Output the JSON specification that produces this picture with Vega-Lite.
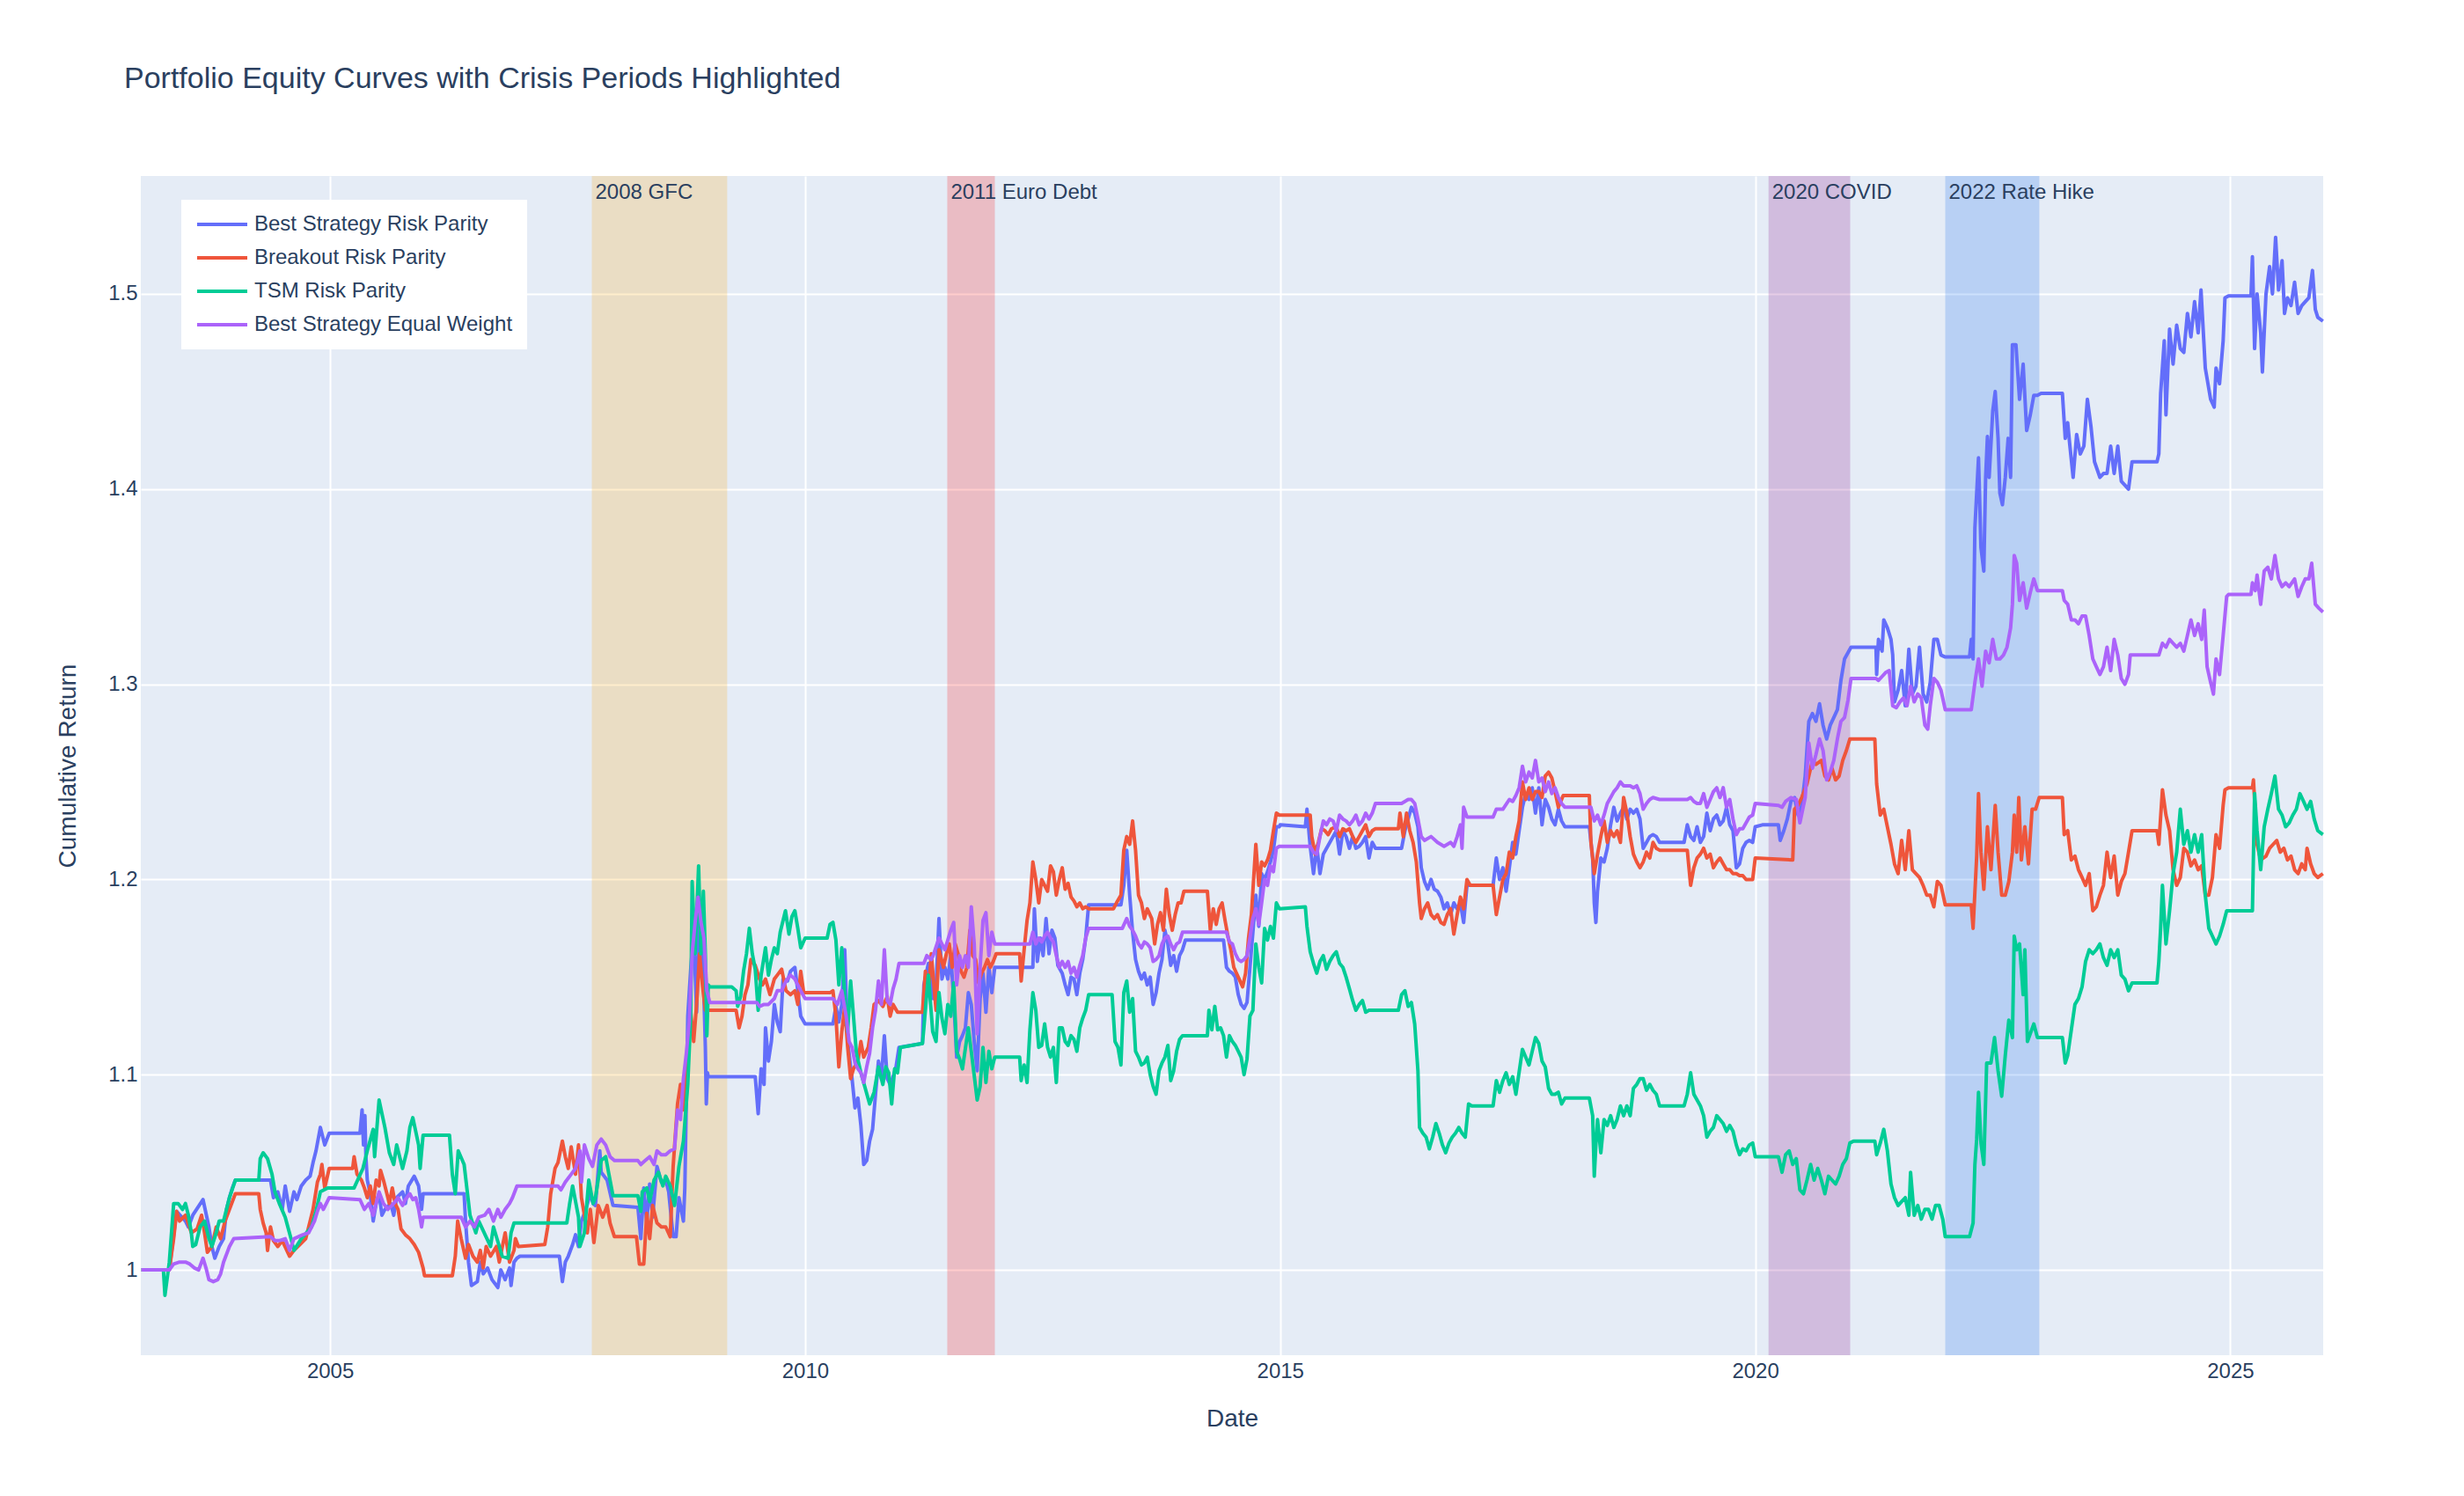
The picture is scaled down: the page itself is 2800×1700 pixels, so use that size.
{
"$schema": "https://vega.github.io/schema/vega-lite/v6.json",
"width": 2480,
"height": 1340,
"autosize": {"type": "none"},
"padding": {"left": 160, "top": 200, "right": 160, "bottom": 160},
"background": "#ffffff",
"config": {
  "view": {"fill": "#E5ECF6", "stroke": null},
  "font": "Liberation Sans",
  "axis": {"domain": false, "ticks": false, "tickSize": 0, "gridColor": "#ffffff", "gridWidth": 2, "gridOpacity": 1, "labelFont": "Liberation Sans", "labelFontSize": 24, "labelColor": "#2a3f5f", "titleFont": "Liberation Sans", "titleFontSize": 28, "titleColor": "#2a3f5f", "titleFontWeight": "normal"}
},
"title": {"text": "Portfolio Equity Curves with Crisis Periods Highlighted", "anchor": "start", "frame": "group", "font": "Liberation Sans", "fontSize": 34, "fontWeight": "normal", "color": "#2a3f5f", "baseline": "alphabetic", "offset": 66, "dx": -19},
"datasets": {
"crises": [
{"label": "2008 GFC", "start": 2007.755, "end": 2009.18},
{"label": "2011 Euro Debt", "start": 2011.496, "end": 2011.997},
{"label": "2020 COVID", "start": 2020.14, "end": 2021.0},
{"label": "2022 Rate Hike", "start": 2022.0, "end": 2022.99}
],
"brp": [
{"t":2003.015,"v":1.000},{"t":2003.308,"v":1.000},{"t":2003.385,"v":1.030},{"t":2003.478,"v":1.025},{"t":2003.509,"v":1.022},{"t":2003.555,"v":1.028},{"t":2003.663,"v":1.036},{"t":2003.725,"v":1.022},{"t":2003.756,"v":1.012},{"t":2003.787,"v":1.006},{"t":2003.833,"v":1.012},{"t":2003.879,"v":1.016},{"t":2003.910,"v":1.031},{"t":2003.941,"v":1.037},{"t":2003.972,"v":1.042},{"t":2004.003,"v":1.046},{"t":2004.373,"v":1.046},{"t":2004.404,"v":1.037},{"t":2004.450,"v":1.040},{"t":2004.497,"v":1.031},{"t":2004.528,"v":1.043},{"t":2004.574,"v":1.030},{"t":2004.620,"v":1.040},{"t":2004.651,"v":1.036},{"t":2004.697,"v":1.043},{"t":2004.744,"v":1.046},{"t":2004.790,"v":1.048},{"t":2004.821,"v":1.055},{"t":2004.852,"v":1.061},{"t":2004.898,"v":1.073},{"t":2004.944,"v":1.064},{"t":2004.991,"v":1.070},{"t":2005.315,"v":1.070},{"t":2005.337,"v":1.082},{"t":2005.352,"v":1.064},{"t":2005.367,"v":1.079},{"t":2005.377,"v":1.058},{"t":2005.392,"v":1.046},{"t":2005.423,"v":1.039},{"t":2005.454,"v":1.025},{"t":2005.485,"v":1.034},{"t":2005.516,"v":1.039},{"t":2005.546,"v":1.028},{"t":2005.577,"v":1.031},{"t":2005.639,"v":1.034},{"t":2005.670,"v":1.028},{"t":2005.701,"v":1.037},{"t":2005.763,"v":1.040},{"t":2005.793,"v":1.034},{"t":2005.824,"v":1.043},{"t":2005.886,"v":1.048},{"t":2005.932,"v":1.043},{"t":2005.963,"v":1.031},{"t":2005.979,"v":1.039},{"t":2006.411,"v":1.039},{"t":2006.426,"v":1.025},{"t":2006.457,"v":1.004},{"t":2006.488,"v":0.992},{"t":2006.550,"v":0.994},{"t":2006.581,"v":1.004},{"t":2006.612,"v":0.998},{"t":2006.658,"v":1.001},{"t":2006.704,"v":0.995},{"t":2006.766,"v":0.991},{"t":2006.797,"v":1.000},{"t":2006.843,"v":0.995},{"t":2006.889,"v":1.001},{"t":2006.905,"v":0.992},{"t":2006.936,"v":1.004},{"t":2006.967,"v":1.006},{"t":2006.998,"v":1.007},{"t":2007.414,"v":1.007},{"t":2007.445,"v":0.994},{"t":2007.476,"v":1.004},{"t":2007.507,"v":1.007},{"t":2007.553,"v":1.013},{"t":2007.584,"v":1.018},{"t":2007.615,"v":1.012},{"t":2007.646,"v":1.025},{"t":2007.692,"v":1.031},{"t":2007.739,"v":1.039},{"t":2007.769,"v":1.034},
{"t":2007.793,"v":1.033},{"t":2007.839,"v":1.061},{"t":2007.854,"v":1.050},{"t":2007.916,"v":1.046},{"t":2007.978,"v":1.033},{"t":2008.240,"v":1.032},{"t":2008.271,"v":1.016},{"t":2008.302,"v":1.042},{"t":2008.333,"v":1.024},{"t":2008.364,"v":1.044},{"t":2008.395,"v":1.027},{"t":2008.441,"v":1.053},{"t":2008.487,"v":1.045},{"t":2008.533,"v":1.046},{"t":2008.564,"v":1.040},{"t":2008.611,"v":1.017},{"t":2008.642,"v":1.017},{"t":2008.672,"v":1.037},{"t":2008.719,"v":1.025},{"t":2008.734,"v":1.042},{"t":2008.765,"v":1.130},{"t":2008.796,"v":1.154},{"t":2008.827,"v":1.173},{"t":2008.858,"v":1.132},{"t":2008.889,"v":1.188},{"t":2008.919,"v":1.169},{"t":2008.950,"v":1.114},{"t":2008.960,"v":1.085},{"t":2008.972,"v":1.101},{"t":2008.981,"v":1.099},{"t":2009.475,"v":1.099},{"t":2009.506,"v":1.080},{"t":2009.537,"v":1.103},{"t":2009.568,"v":1.095},{"t":2009.583,"v":1.124},{"t":2009.614,"v":1.107},{"t":2009.645,"v":1.117},{"t":2009.676,"v":1.136},{"t":2009.707,"v":1.127},{"t":2009.738,"v":1.122},{"t":2009.768,"v":1.149},{"t":2009.815,"v":1.148},{"t":2009.846,"v":1.153},{"t":2009.892,"v":1.155},{"t":2009.923,"v":1.143},{"t":2009.954,"v":1.130},{"t":2010.000,"v":1.126},{"t":2010.293,"v":1.126},{"t":2010.324,"v":1.135},{"t":2010.355,"v":1.127},{"t":2010.386,"v":1.136},{"t":2010.417,"v":1.164},{"t":2010.448,"v":1.117},{"t":2010.494,"v":1.098},{"t":2010.525,"v":1.083},{"t":2010.556,"v":1.088},{"t":2010.587,"v":1.074},{"t":2010.617,"v":1.054},{"t":2010.648,"v":1.056},{"t":2010.679,"v":1.066},{"t":2010.710,"v":1.072},{"t":2010.741,"v":1.090},{"t":2010.772,"v":1.107},{"t":2010.803,"v":1.098},{"t":2010.834,"v":1.120},{"t":2010.864,"v":1.098},{"t":2010.895,"v":1.095},{"t":2010.926,"v":1.099},{"t":2010.957,"v":1.104},{"t":2010.988,"v":1.114},{"t":2011.235,"v":1.116},{"t":2011.250,"v":1.146},{"t":2011.297,"v":1.157},
{"t":2011.348,"v":1.139},{"t":2011.378,"v":1.145},{"t":2011.409,"v":1.180},{"t":2011.440,"v":1.149},{"t":2011.471,"v":1.155},{"t":2011.502,"v":1.149},{"t":2011.533,"v":1.161},{"t":2011.564,"v":1.139},{"t":2011.595,"v":1.109},{"t":2011.626,"v":1.117},{"t":2011.656,"v":1.120},{"t":2011.687,"v":1.124},{"t":2011.718,"v":1.142},{"t":2011.749,"v":1.136},{"t":2011.780,"v":1.117},{"t":2011.811,"v":1.102},{"t":2011.842,"v":1.139},{"t":2011.872,"v":1.152},{"t":2011.903,"v":1.132},{"t":2011.934,"v":1.155},{"t":2011.965,"v":1.142},{"t":2011.996,"v":1.155},{"t":2012.397,"v":1.155},{"t":2012.413,"v":1.185},{"t":2012.444,"v":1.158},{"t":2012.475,"v":1.170},{"t":2012.505,"v":1.161},{"t":2012.536,"v":1.180},{"t":2012.567,"v":1.162},{"t":2012.598,"v":1.174},{"t":2012.629,"v":1.170},{"t":2012.660,"v":1.156},{"t":2012.706,"v":1.152},{"t":2012.737,"v":1.146},{"t":2012.768,"v":1.141},{"t":2012.799,"v":1.150},{"t":2012.830,"v":1.149},{"t":2012.860,"v":1.141},{"t":2012.891,"v":1.152},{"t":2012.922,"v":1.159},{"t":2012.953,"v":1.170},{"t":2012.984,"v":1.187},{"t":2013.324,"v":1.187},{"t":2013.354,"v":1.197},{"t":2013.385,"v":1.215},{"t":2013.416,"v":1.192},{"t":2013.447,"v":1.173},{"t":2013.478,"v":1.159},{"t":2013.509,"v":1.153},{"t":2013.540,"v":1.149},{"t":2013.571,"v":1.152},{"t":2013.601,"v":1.146},{"t":2013.632,"v":1.150},{"t":2013.663,"v":1.136},{"t":2013.694,"v":1.142},{"t":2013.725,"v":1.152},{"t":2013.756,"v":1.159},{"t":2013.787,"v":1.174},{"t":2013.818,"v":1.167},{"t":2013.848,"v":1.156},{"t":2013.879,"v":1.161},{"t":2013.910,"v":1.153},{"t":2013.941,"v":1.161},{"t":2013.972,"v":1.164},{"t":2014.003,"v":1.169},{"t":2014.404,"v":1.169},{"t":2014.435,"v":1.155},{"t":2014.466,"v":1.153},{"t":2014.497,"v":1.152},{"t":2014.528,"v":1.150},{"t":2014.559,"v":1.141},{"t":2014.589,"v":1.136},{"t":2014.620,"v":1.134},{"t":2014.651,"v":1.137},{"t":2014.682,"v":1.155},{"t":2014.713,"v":1.173},{"t":2014.744,"v":1.192},{"t":2014.775,"v":1.176},{"t":2014.805,"v":1.203},{"t":2014.836,"v":1.200},{"t":2014.867,"v":1.204},{"t":2014.898,"v":1.209},{"t":2014.929,"v":1.215},{"t":2014.960,"v":1.227},{"t":2014.991,"v":1.227},
{"t":2015.000,"v":1.228},{"t":2015.265,"v":1.227},{"t":2015.282,"v":1.236},{"t":2015.316,"v":1.217},{"t":2015.351,"v":1.203},{"t":2015.385,"v":1.217},{"t":2015.419,"v":1.203},{"t":2015.454,"v":1.213},{"t":2015.488,"v":1.216},{"t":2015.557,"v":1.222},{"t":2015.591,"v":1.225},{"t":2015.625,"v":1.213},{"t":2015.660,"v":1.225},{"t":2015.694,"v":1.222},{"t":2015.729,"v":1.216},{"t":2015.763,"v":1.222},{"t":2015.797,"v":1.216},{"t":2015.832,"v":1.217},{"t":2015.866,"v":1.219},{"t":2015.900,"v":1.222},{"t":2015.935,"v":1.211},{"t":2015.969,"v":1.219},{"t":2016.003,"v":1.216},{"t":2016.278,"v":1.216},{"t":2016.313,"v":1.225},{"t":2016.347,"v":1.231},{"t":2016.381,"v":1.237},{"t":2016.416,"v":1.234},{"t":2016.450,"v":1.227},{"t":2016.485,"v":1.206},{"t":2016.519,"v":1.199},{"t":2016.553,"v":1.195},{"t":2016.588,"v":1.200},{"t":2016.622,"v":1.195},{"t":2016.656,"v":1.194},{"t":2016.691,"v":1.191},{"t":2016.725,"v":1.185},{"t":2016.759,"v":1.188},{"t":2016.794,"v":1.182},{"t":2016.828,"v":1.188},{"t":2016.863,"v":1.185},{"t":2016.897,"v":1.188},{"t":2016.931,"v":1.178},{"t":2016.966,"v":1.197},{"t":2017.241,"v":1.197},{"t":2017.275,"v":1.211},{"t":2017.309,"v":1.200},{"t":2017.344,"v":1.206},{"t":2017.378,"v":1.194},{"t":2017.412,"v":1.206},{"t":2017.447,"v":1.219},{"t":2017.481,"v":1.213},{"t":2017.515,"v":1.225},{"t":2017.550,"v":1.237},{"t":2017.584,"v":1.244},{"t":2017.619,"v":1.241},{"t":2017.653,"v":1.247},{"t":2017.687,"v":1.234},{"t":2017.722,"v":1.247},{"t":2017.756,"v":1.228},{"t":2017.790,"v":1.241},{"t":2017.825,"v":1.237},{"t":2017.859,"v":1.231},{"t":2017.893,"v":1.228},{"t":2017.928,"v":1.236},{"t":2017.962,"v":1.230},{"t":2017.997,"v":1.227},{"t":2018.254,"v":1.227},{"t":2018.289,"v":1.211},{"t":2018.306,"v":1.188},{"t":2018.323,"v":1.178},{"t":2018.340,"v":1.194},{"t":2018.375,"v":1.211},{"t":2018.409,"v":1.209},{"t":2018.443,"v":1.216},{"t":2018.478,"v":1.228},{"t":2018.512,"v":1.237},{"t":2018.546,"v":1.230},{"t":2018.581,"v":1.234},{"t":2018.615,"v":1.237},{"t":2018.649,"v":1.231},{"t":2018.684,"v":1.236},{"t":2018.718,"v":1.234},{"t":2018.753,"v":1.236},{"t":2018.787,"v":1.231},{"t":2018.821,"v":1.216},{"t":2018.856,"v":1.219},{"t":2018.890,"v":1.222},{"t":2018.924,"v":1.223},{"t":2018.959,"v":1.222},{"t":2018.993,"v":1.219},{"t":2019.251,"v":1.219},{"t":2019.285,"v":1.228},{"t":2019.320,"v":1.222},{"t":2019.354,"v":1.220},{"t":2019.388,"v":1.227},{"t":2019.423,"v":1.219},{"t":2019.457,"v":1.222},{"t":2019.491,"v":1.234},{"t":2019.526,"v":1.225},{"t":2019.560,"v":1.231},{"t":2019.595,"v":1.233},{"t":2019.629,"v":1.228},{"t":2019.663,"v":1.230},{"t":2019.698,"v":1.237},{"t":2019.732,"v":1.228},{"t":2019.766,"v":1.225},{"t":2019.801,"v":1.206},{"t":2019.835,"v":1.208},{"t":2019.869,"v":1.216},{"t":2019.904,"v":1.219},{"t":2019.938,"v":1.220},{"t":2019.973,"v":1.219},{"t":2020.000,"v":1.227},
{"t":2020.075,"v":1.228},{"t":2020.244,"v":1.228},{"t":2020.263,"v":1.220},{"t":2020.301,"v":1.225},{"t":2020.338,"v":1.231},{"t":2020.376,"v":1.240},{"t":2020.414,"v":1.242},{"t":2020.451,"v":1.233},{"t":2020.489,"v":1.238},{"t":2020.526,"v":1.253},{"t":2020.564,"v":1.281},{"t":2020.602,"v":1.285},{"t":2020.639,"v":1.281},{"t":2020.677,"v":1.290},{"t":2020.714,"v":1.279},{"t":2020.752,"v":1.272},{"t":2020.789,"v":1.279},{"t":2020.827,"v":1.283},{"t":2020.865,"v":1.287},{"t":2020.902,"v":1.302},{"t":2020.940,"v":1.313},{"t":2021.008,"v":1.319},{"t":2021.271,"v":1.319},{"t":2021.278,"v":1.305},{"t":2021.297,"v":1.323},{"t":2021.335,"v":1.317},{"t":2021.353,"v":1.333},{"t":2021.391,"v":1.329},{"t":2021.429,"v":1.323},{"t":2021.447,"v":1.315},{"t":2021.466,"v":1.291},{"t":2021.504,"v":1.297},{"t":2021.541,"v":1.307},{"t":2021.579,"v":1.289},{"t":2021.617,"v":1.318},{"t":2021.654,"v":1.295},{"t":2021.692,"v":1.299},{"t":2021.729,"v":1.319},{"t":2021.767,"v":1.295},{"t":2021.805,"v":1.291},{"t":2021.842,"v":1.301},{"t":2021.880,"v":1.323},{"t":2021.917,"v":1.323},{"t":2021.955,"v":1.315},{"t":2022.000,"v":1.314},{"t":2022.256,"v":1.314},{"t":2022.274,"v":1.323},{"t":2022.293,"v":1.313},{"t":2022.312,"v":1.380},{"t":2022.350,"v":1.416},{"t":2022.376,"v":1.370},{"t":2022.406,"v":1.358},{"t":2022.425,"v":1.406},{"t":2022.444,"v":1.427},{"t":2022.462,"v":1.406},{"t":2022.500,"v":1.440},{"t":2022.526,"v":1.450},{"t":2022.556,"v":1.426},{"t":2022.575,"v":1.398},{"t":2022.602,"v":1.392},{"t":2022.632,"v":1.406},{"t":2022.662,"v":1.426},{"t":2022.688,"v":1.406},{"t":2022.707,"v":1.474},{"t":2022.744,"v":1.474},{"t":2022.782,"v":1.446},{"t":2022.820,"v":1.464},{"t":2022.857,"v":1.430},{"t":2022.895,"v":1.438},{"t":2022.932,"v":1.448},{"t":2022.970,"v":1.448},{"t":2023.008,"v":1.449},{"t":2023.233,"v":1.449},{"t":2023.263,"v":1.426},{"t":2023.289,"v":1.434},{"t":2023.308,"v":1.424},{"t":2023.346,"v":1.406},{"t":2023.383,"v":1.428},{"t":2023.421,"v":1.418},{"t":2023.459,"v":1.422},{"t":2023.496,"v":1.446},{"t":2023.534,"v":1.432},{"t":2023.571,"v":1.414},{"t":2023.628,"v":1.406},{"t":2023.665,"v":1.408},{"t":2023.703,"v":1.408},{"t":2023.741,"v":1.422},{"t":2023.778,"v":1.408},{"t":2023.816,"v":1.422},{"t":2023.853,"v":1.404},{"t":2023.891,"v":1.402},{"t":2023.929,"v":1.400},{"t":2023.966,"v":1.414},{"t":2024.229,"v":1.414},{"t":2024.248,"v":1.418},{"t":2024.267,"v":1.449},{"t":2024.305,"v":1.476},{"t":2024.323,"v":1.438},{"t":2024.361,"v":1.482},{"t":2024.398,"v":1.464},{"t":2024.436,"v":1.484},{"t":2024.474,"v":1.472},{"t":2024.511,"v":1.470},{"t":2024.549,"v":1.490},{"t":2024.586,"v":1.478},{"t":2024.624,"v":1.496},{"t":2024.662,"v":1.480},{"t":2024.692,"v":1.502},{"t":2024.737,"v":1.462},{"t":2024.793,"v":1.446},{"t":2024.831,"v":1.442},{"t":2024.850,"v":1.462},{"t":2024.887,"v":1.454},{"t":2024.925,"v":1.476},{"t":2024.944,"v":1.498},{"t":2024.981,"v":1.499},{"t":2025.218,"v":1.499},{"t":2025.233,"v":1.519},{"t":2025.256,"v":1.472},{"t":2025.282,"v":1.500},{"t":2025.320,"v":1.480},{"t":2025.338,"v":1.460},{"t":2025.376,"v":1.500},{"t":2025.414,"v":1.514},{"t":2025.444,"v":1.500},{"t":2025.477,"v":1.529},{"t":2025.508,"v":1.502},{"t":2025.545,"v":1.517},{"t":2025.571,"v":1.490},{"t":2025.602,"v":1.498},{"t":2025.639,"v":1.494},{"t":2025.677,"v":1.506},{"t":2025.714,"v":1.490},{"t":2025.752,"v":1.494},{"t":2025.789,"v":1.496},{"t":2025.827,"v":1.498},{"t":2025.865,"v":1.512},{"t":2025.895,"v":1.492},{"t":2025.921,"v":1.488},{"t":2025.975,"v":1.486}
],
"bkrp": [
{"t":2003.015,"v":1.000},{"t":2003.308,"v":1.000},{"t":2003.354,"v":1.016},{"t":2003.385,"v":1.030},{"t":2003.416,"v":1.025},{"t":2003.478,"v":1.028},{"t":2003.540,"v":1.019},{"t":2003.601,"v":1.021},{"t":2003.648,"v":1.028},{"t":2003.679,"v":1.019},{"t":2003.709,"v":1.009},{"t":2003.756,"v":1.012},{"t":2003.802,"v":1.022},{"t":2003.848,"v":1.016},{"t":2003.895,"v":1.025},{"t":2003.941,"v":1.031},{"t":2004.003,"v":1.039},{"t":2004.250,"v":1.039},{"t":2004.265,"v":1.031},{"t":2004.296,"v":1.024},{"t":2004.327,"v":1.019},{"t":2004.342,"v":1.010},{"t":2004.373,"v":1.022},{"t":2004.404,"v":1.015},{"t":2004.450,"v":1.012},{"t":2004.497,"v":1.015},{"t":2004.574,"v":1.007},{"t":2004.620,"v":1.010},{"t":2004.682,"v":1.013},{"t":2004.744,"v":1.016},{"t":2004.790,"v":1.025},{"t":2004.821,"v":1.031},{"t":2004.867,"v":1.045},{"t":2004.898,"v":1.049},{"t":2004.914,"v":1.054},{"t":2004.944,"v":1.042},{"t":2004.991,"v":1.052},{"t":2005.238,"v":1.052},{"t":2005.253,"v":1.058},{"t":2005.284,"v":1.049},{"t":2005.330,"v":1.046},{"t":2005.361,"v":1.042},{"t":2005.392,"v":1.037},{"t":2005.423,"v":1.043},{"t":2005.454,"v":1.034},{"t":2005.485,"v":1.046},{"t":2005.516,"v":1.043},{"t":2005.531,"v":1.051},{"t":2005.562,"v":1.046},{"t":2005.593,"v":1.040},{"t":2005.624,"v":1.034},{"t":2005.655,"v":1.042},{"t":2005.685,"v":1.034},{"t":2005.716,"v":1.031},{"t":2005.747,"v":1.021},{"t":2005.793,"v":1.018},{"t":2005.840,"v":1.016},{"t":2005.886,"v":1.013},{"t":2005.932,"v":1.009},{"t":2005.979,"v":1.001},{"t":2005.994,"v":0.997},{"t":2006.287,"v":0.997},{"t":2006.318,"v":1.007},{"t":2006.343,"v":1.025},{"t":2006.380,"v":1.016},{"t":2006.426,"v":1.006},{"t":2006.457,"v":1.013},{"t":2006.504,"v":1.007},{"t":2006.550,"v":1.004},{"t":2006.581,"v":1.010},{"t":2006.612,"v":1.001},{"t":2006.643,"v":1.012},{"t":2006.689,"v":1.007},{"t":2006.751,"v":1.012},{"t":2006.781,"v":1.004},{"t":2006.843,"v":1.019},{"t":2006.889,"v":1.004},{"t":2006.936,"v":1.010},{"t":2006.951,"v":1.016},{"t":2006.982,"v":1.012},{"t":2007.260,"v":1.013},{"t":2007.291,"v":1.022},{"t":2007.322,"v":1.039},{"t":2007.368,"v":1.052},{"t":2007.399,"v":1.055},{"t":2007.445,"v":1.066},{"t":2007.476,"v":1.058},{"t":2007.507,"v":1.052},{"t":2007.538,"v":1.063},{"t":2007.584,"v":1.049},{"t":2007.615,"v":1.064},{"t":2007.646,"v":1.037},{"t":2007.708,"v":1.019},{"t":2007.739,"v":1.031},
{"t":2007.777,"v":1.014},{"t":2007.823,"v":1.033},{"t":2007.870,"v":1.027},{"t":2007.916,"v":1.033},{"t":2007.947,"v":1.024},{"t":2007.993,"v":1.017},{"t":2008.225,"v":1.017},{"t":2008.256,"v":1.003},{"t":2008.302,"v":1.003},{"t":2008.333,"v":1.029},{"t":2008.364,"v":1.016},{"t":2008.395,"v":1.033},{"t":2008.441,"v":1.024},{"t":2008.487,"v":1.022},{"t":2008.533,"v":1.022},{"t":2008.580,"v":1.017},{"t":2008.611,"v":1.053},{"t":2008.657,"v":1.085},{"t":2008.688,"v":1.095},{"t":2008.719,"v":1.082},{"t":2008.765,"v":1.114},{"t":2008.796,"v":1.132},{"t":2008.827,"v":1.117},{"t":2008.858,"v":1.136},{"t":2008.889,"v":1.162},{"t":2008.919,"v":1.146},{"t":2008.950,"v":1.133},{"t":2008.981,"v":1.133},{"t":2009.274,"v":1.133},{"t":2009.305,"v":1.124},{"t":2009.336,"v":1.130},{"t":2009.367,"v":1.141},{"t":2009.398,"v":1.146},{"t":2009.429,"v":1.159},{"t":2009.475,"v":1.156},{"t":2009.521,"v":1.149},{"t":2009.552,"v":1.146},{"t":2009.583,"v":1.149},{"t":2009.630,"v":1.141},{"t":2009.676,"v":1.149},{"t":2009.707,"v":1.151},{"t":2009.753,"v":1.154},{"t":2009.799,"v":1.143},{"t":2009.846,"v":1.141},{"t":2009.892,"v":1.143},{"t":2009.923,"v":1.136},{"t":2009.954,"v":1.153},{"t":2009.985,"v":1.142},{"t":2010.262,"v":1.142},{"t":2010.293,"v":1.143},{"t":2010.324,"v":1.130},{"t":2010.355,"v":1.104},{"t":2010.386,"v":1.122},{"t":2010.417,"v":1.135},{"t":2010.448,"v":1.114},{"t":2010.479,"v":1.098},{"t":2010.509,"v":1.103},{"t":2010.556,"v":1.107},{"t":2010.587,"v":1.117},{"t":2010.617,"v":1.109},{"t":2010.664,"v":1.114},{"t":2010.695,"v":1.124},{"t":2010.726,"v":1.136},{"t":2010.772,"v":1.138},{"t":2010.818,"v":1.135},{"t":2010.864,"v":1.140},{"t":2010.895,"v":1.130},{"t":2010.926,"v":1.136},{"t":2010.973,"v":1.132},{"t":2011.235,"v":1.132},{"t":2011.266,"v":1.153},{"t":2011.297,"v":1.141},{"t":2011.328,"v":1.162},
{"t":2011.378,"v":1.133},{"t":2011.409,"v":1.164},{"t":2011.456,"v":1.155},{"t":2011.487,"v":1.162},{"t":2011.517,"v":1.167},{"t":2011.548,"v":1.155},{"t":2011.579,"v":1.167},{"t":2011.610,"v":1.162},{"t":2011.641,"v":1.153},{"t":2011.672,"v":1.150},{"t":2011.703,"v":1.155},{"t":2011.734,"v":1.174},{"t":2011.764,"v":1.161},{"t":2011.795,"v":1.159},{"t":2011.826,"v":1.147},{"t":2011.857,"v":1.152},{"t":2011.888,"v":1.155},{"t":2011.919,"v":1.159},{"t":2011.950,"v":1.155},{"t":2011.980,"v":1.158},{"t":2012.011,"v":1.162},{"t":2012.258,"v":1.162},{"t":2012.274,"v":1.148},{"t":2012.305,"v":1.164},{"t":2012.336,"v":1.179},{"t":2012.366,"v":1.188},{"t":2012.397,"v":1.209},{"t":2012.428,"v":1.200},{"t":2012.459,"v":1.188},{"t":2012.490,"v":1.200},{"t":2012.521,"v":1.197},{"t":2012.552,"v":1.194},{"t":2012.583,"v":1.207},{"t":2012.613,"v":1.204},{"t":2012.644,"v":1.192},{"t":2012.675,"v":1.200},{"t":2012.706,"v":1.206},{"t":2012.737,"v":1.195},{"t":2012.768,"v":1.198},{"t":2012.799,"v":1.191},{"t":2012.830,"v":1.189},{"t":2012.860,"v":1.186},{"t":2012.891,"v":1.188},{"t":2012.922,"v":1.185},{"t":2012.953,"v":1.186},{"t":2012.984,"v":1.185},{"t":2013.246,"v":1.185},{"t":2013.277,"v":1.188},{"t":2013.324,"v":1.192},{"t":2013.354,"v":1.215},{"t":2013.385,"v":1.222},{"t":2013.416,"v":1.218},{"t":2013.447,"v":1.230},{"t":2013.478,"v":1.215},{"t":2013.509,"v":1.192},{"t":2013.540,"v":1.188},{"t":2013.571,"v":1.180},{"t":2013.601,"v":1.185},{"t":2013.648,"v":1.180},{"t":2013.679,"v":1.167},{"t":2013.709,"v":1.177},{"t":2013.740,"v":1.183},{"t":2013.771,"v":1.174},{"t":2013.802,"v":1.195},{"t":2013.833,"v":1.182},{"t":2013.864,"v":1.174},{"t":2013.895,"v":1.182},{"t":2013.926,"v":1.188},{"t":2013.957,"v":1.188},{"t":2013.987,"v":1.194},{"t":2014.234,"v":1.194},{"t":2014.265,"v":1.174},{"t":2014.296,"v":1.185},{"t":2014.327,"v":1.177},{"t":2014.358,"v":1.185},{"t":2014.389,"v":1.188},{"t":2014.420,"v":1.179},{"t":2014.450,"v":1.171},{"t":2014.481,"v":1.164},{"t":2014.512,"v":1.155},{"t":2014.559,"v":1.150},{"t":2014.605,"v":1.145},{"t":2014.636,"v":1.152},{"t":2014.667,"v":1.170},{"t":2014.697,"v":1.182},{"t":2014.728,"v":1.206},{"t":2014.744,"v":1.218},{"t":2014.775,"v":1.197},{"t":2014.805,"v":1.209},{"t":2014.836,"v":1.207},{"t":2014.867,"v":1.210},{"t":2014.898,"v":1.215},{"t":2014.929,"v":1.225},{"t":2014.960,"v":1.234},{"t":2014.991,"v":1.233},
{"t":2015.316,"v":1.233},{"t":2015.333,"v":1.222},{"t":2015.368,"v":1.213},{"t":2015.402,"v":1.219},{"t":2015.436,"v":1.226},{"t":2015.471,"v":1.225},{"t":2015.505,"v":1.223},{"t":2015.540,"v":1.226},{"t":2015.591,"v":1.227},{"t":2015.625,"v":1.222},{"t":2015.660,"v":1.226},{"t":2015.694,"v":1.225},{"t":2015.729,"v":1.226},{"t":2015.763,"v":1.222},{"t":2015.797,"v":1.219},{"t":2015.832,"v":1.222},{"t":2015.866,"v":1.225},{"t":2015.900,"v":1.228},{"t":2015.935,"v":1.222},{"t":2015.969,"v":1.225},{"t":2016.003,"v":1.226},{"t":2016.244,"v":1.226},{"t":2016.261,"v":1.234},{"t":2016.296,"v":1.222},{"t":2016.330,"v":1.234},{"t":2016.364,"v":1.225},{"t":2016.399,"v":1.219},{"t":2016.433,"v":1.209},{"t":2016.467,"v":1.188},{"t":2016.485,"v":1.180},{"t":2016.519,"v":1.185},{"t":2016.553,"v":1.188},{"t":2016.588,"v":1.182},{"t":2016.622,"v":1.180},{"t":2016.656,"v":1.182},{"t":2016.691,"v":1.178},{"t":2016.725,"v":1.177},{"t":2016.759,"v":1.182},{"t":2016.794,"v":1.185},{"t":2016.828,"v":1.172},{"t":2016.863,"v":1.182},{"t":2016.897,"v":1.191},{"t":2016.931,"v":1.185},{"t":2016.966,"v":1.200},{"t":2017.000,"v":1.197},{"t":2017.241,"v":1.197},{"t":2017.275,"v":1.182},{"t":2017.309,"v":1.191},{"t":2017.344,"v":1.200},{"t":2017.378,"v":1.203},{"t":2017.412,"v":1.214},{"t":2017.447,"v":1.211},{"t":2017.481,"v":1.222},{"t":2017.515,"v":1.230},{"t":2017.550,"v":1.250},{"t":2017.584,"v":1.241},{"t":2017.619,"v":1.247},{"t":2017.653,"v":1.241},{"t":2017.687,"v":1.245},{"t":2017.722,"v":1.245},{"t":2017.756,"v":1.242},{"t":2017.790,"v":1.253},{"t":2017.825,"v":1.255},{"t":2017.859,"v":1.252},{"t":2017.893,"v":1.245},{"t":2017.928,"v":1.237},{"t":2017.962,"v":1.241},{"t":2017.979,"v":1.243},{"t":2018.254,"v":1.243},{"t":2018.271,"v":1.219},{"t":2018.306,"v":1.203},{"t":2018.340,"v":1.213},{"t":2018.375,"v":1.222},{"t":2018.409,"v":1.230},{"t":2018.443,"v":1.219},{"t":2018.478,"v":1.225},{"t":2018.512,"v":1.222},{"t":2018.546,"v":1.225},{"t":2018.581,"v":1.219},{"t":2018.615,"v":1.242},{"t":2018.649,"v":1.234},{"t":2018.684,"v":1.222},{"t":2018.718,"v":1.213},{"t":2018.753,"v":1.209},{"t":2018.787,"v":1.206},{"t":2018.821,"v":1.209},{"t":2018.856,"v":1.214},{"t":2018.890,"v":1.211},{"t":2018.924,"v":1.219},{"t":2018.959,"v":1.216},{"t":2018.993,"v":1.215},{"t":2019.285,"v":1.215},{"t":2019.320,"v":1.197},{"t":2019.354,"v":1.206},{"t":2019.388,"v":1.211},{"t":2019.423,"v":1.213},{"t":2019.457,"v":1.216},{"t":2019.491,"v":1.211},{"t":2019.526,"v":1.213},{"t":2019.560,"v":1.206},{"t":2019.595,"v":1.209},{"t":2019.629,"v":1.211},{"t":2019.663,"v":1.208},{"t":2019.698,"v":1.205},{"t":2019.732,"v":1.205},{"t":2019.766,"v":1.203},{"t":2019.801,"v":1.203},{"t":2019.835,"v":1.202},{"t":2019.869,"v":1.202},{"t":2019.904,"v":1.200},{"t":2019.938,"v":1.200},{"t":2019.973,"v":1.200},{"t":2020.000,"v":1.211},
{"t":2020.395,"v":1.210},{"t":2020.414,"v":1.236},{"t":2020.451,"v":1.238},{"t":2020.489,"v":1.242},{"t":2020.545,"v":1.249},{"t":2020.602,"v":1.261},{"t":2020.639,"v":1.259},{"t":2020.696,"v":1.261},{"t":2020.733,"v":1.253},{"t":2020.771,"v":1.251},{"t":2020.808,"v":1.257},{"t":2020.846,"v":1.251},{"t":2020.883,"v":1.253},{"t":2020.921,"v":1.261},{"t":2020.959,"v":1.266},{"t":2020.996,"v":1.272},{"t":2021.259,"v":1.272},{"t":2021.278,"v":1.249},{"t":2021.316,"v":1.233},{"t":2021.353,"v":1.236},{"t":2021.391,"v":1.227},{"t":2021.429,"v":1.218},{"t":2021.466,"v":1.208},{"t":2021.504,"v":1.203},{"t":2021.541,"v":1.220},{"t":2021.579,"v":1.205},{"t":2021.617,"v":1.225},{"t":2021.654,"v":1.205},{"t":2021.692,"v":1.203},{"t":2021.729,"v":1.201},{"t":2021.767,"v":1.197},{"t":2021.805,"v":1.192},{"t":2021.842,"v":1.192},{"t":2021.880,"v":1.186},{"t":2021.917,"v":1.199},{"t":2021.955,"v":1.197},{"t":2022.000,"v":1.187},{"t":2022.274,"v":1.187},{"t":2022.293,"v":1.175},{"t":2022.331,"v":1.212},{"t":2022.350,"v":1.244},{"t":2022.376,"v":1.214},{"t":2022.406,"v":1.195},{"t":2022.444,"v":1.227},{"t":2022.481,"v":1.205},{"t":2022.526,"v":1.238},{"t":2022.556,"v":1.214},{"t":2022.594,"v":1.192},{"t":2022.632,"v":1.192},{"t":2022.669,"v":1.199},{"t":2022.707,"v":1.214},{"t":2022.726,"v":1.233},{"t":2022.752,"v":1.214},{"t":2022.774,"v":1.242},{"t":2022.801,"v":1.210},{"t":2022.838,"v":1.227},{"t":2022.876,"v":1.208},{"t":2022.914,"v":1.236},{"t":2022.951,"v":1.236},{"t":2022.989,"v":1.242},{"t":2023.233,"v":1.242},{"t":2023.252,"v":1.223},{"t":2023.289,"v":1.225},{"t":2023.327,"v":1.210},{"t":2023.365,"v":1.212},{"t":2023.402,"v":1.205},{"t":2023.440,"v":1.201},{"t":2023.477,"v":1.197},{"t":2023.515,"v":1.203},{"t":2023.553,"v":1.184},{"t":2023.590,"v":1.186},{"t":2023.628,"v":1.192},{"t":2023.665,"v":1.197},{"t":2023.703,"v":1.214},{"t":2023.741,"v":1.201},{"t":2023.778,"v":1.212},{"t":2023.816,"v":1.192},{"t":2023.853,"v":1.199},{"t":2023.891,"v":1.203},{"t":2023.929,"v":1.214},{"t":2023.966,"v":1.225},{"t":2024.229,"v":1.225},{"t":2024.248,"v":1.218},{"t":2024.286,"v":1.246},{"t":2024.323,"v":1.233},{"t":2024.361,"v":1.225},{"t":2024.398,"v":1.205},{"t":2024.436,"v":1.197},{"t":2024.474,"v":1.201},{"t":2024.511,"v":1.216},{"t":2024.549,"v":1.214},{"t":2024.586,"v":1.207},{"t":2024.624,"v":1.210},{"t":2024.662,"v":1.205},{"t":2024.699,"v":1.207},{"t":2024.737,"v":1.192},{"t":2024.774,"v":1.192},{"t":2024.812,"v":1.201},{"t":2024.850,"v":1.223},{"t":2024.887,"v":1.216},{"t":2024.925,"v":1.238},{"t":2024.944,"v":1.246},{"t":2024.981,"v":1.247},{"t":2025.233,"v":1.247},{"t":2025.244,"v":1.251},{"t":2025.282,"v":1.218},{"t":2025.320,"v":1.210},{"t":2025.376,"v":1.212},{"t":2025.414,"v":1.216},{"t":2025.451,"v":1.218},{"t":2025.489,"v":1.220},{"t":2025.526,"v":1.214},{"t":2025.564,"v":1.216},{"t":2025.602,"v":1.210},{"t":2025.639,"v":1.212},{"t":2025.677,"v":1.205},{"t":2025.714,"v":1.203},{"t":2025.752,"v":1.208},{"t":2025.789,"v":1.205},{"t":2025.808,"v":1.216},{"t":2025.846,"v":1.208},{"t":2025.883,"v":1.203},{"t":2025.921,"v":1.201},{"t":2025.975,"v":1.203}
],
"tsm": [
{"t":2003.015,"v":1.000},{"t":2003.246,"v":1.000},{"t":2003.262,"v":0.987},{"t":2003.308,"v":1.004},{"t":2003.354,"v":1.034},{"t":2003.401,"v":1.034},{"t":2003.447,"v":1.031},{"t":2003.478,"v":1.034},{"t":2003.509,"v":1.028},{"t":2003.540,"v":1.019},{"t":2003.555,"v":1.012},{"t":2003.586,"v":1.013},{"t":2003.632,"v":1.022},{"t":2003.679,"v":1.025},{"t":2003.725,"v":1.016},{"t":2003.756,"v":1.012},{"t":2003.802,"v":1.019},{"t":2003.833,"v":1.025},{"t":2003.879,"v":1.025},{"t":2003.910,"v":1.031},{"t":2003.941,"v":1.037},{"t":2004.003,"v":1.046},{"t":2004.250,"v":1.046},{"t":2004.265,"v":1.057},{"t":2004.296,"v":1.060},{"t":2004.342,"v":1.057},{"t":2004.389,"v":1.049},{"t":2004.420,"v":1.040},{"t":2004.466,"v":1.034},{"t":2004.528,"v":1.027},{"t":2004.589,"v":1.016},{"t":2004.620,"v":1.010},{"t":2004.697,"v":1.016},{"t":2004.805,"v":1.022},{"t":2004.852,"v":1.030},{"t":2004.898,"v":1.040},{"t":2004.975,"v":1.042},{"t":2005.253,"v":1.042},{"t":2005.346,"v":1.052},{"t":2005.392,"v":1.061},{"t":2005.454,"v":1.072},{"t":2005.469,"v":1.058},{"t":2005.516,"v":1.087},{"t":2005.577,"v":1.073},{"t":2005.624,"v":1.060},{"t":2005.670,"v":1.054},{"t":2005.701,"v":1.064},{"t":2005.763,"v":1.052},{"t":2005.809,"v":1.061},{"t":2005.840,"v":1.073},{"t":2005.871,"v":1.078},{"t":2005.932,"v":1.064},{"t":2005.948,"v":1.052},{"t":2005.979,"v":1.069},{"t":2006.257,"v":1.069},{"t":2006.287,"v":1.049},{"t":2006.318,"v":1.039},{"t":2006.349,"v":1.061},{"t":2006.411,"v":1.054},{"t":2006.473,"v":1.028},{"t":2006.534,"v":1.019},{"t":2006.565,"v":1.025},{"t":2006.689,"v":1.012},{"t":2006.720,"v":1.022},{"t":2006.812,"v":1.007},{"t":2006.874,"v":1.006},{"t":2006.905,"v":1.019},{"t":2006.936,"v":1.024},{"t":2007.492,"v":1.024},{"t":2007.522,"v":1.034},{"t":2007.553,"v":1.043},{"t":2007.615,"v":1.027},{"t":2007.630,"v":1.012},{"t":2007.677,"v":1.019},{"t":2007.723,"v":1.046},{"t":2007.769,"v":1.034},
{"t":2007.793,"v":1.037},{"t":2007.854,"v":1.056},{"t":2007.901,"v":1.058},{"t":2007.931,"v":1.050},{"t":2007.978,"v":1.038},{"t":2008.240,"v":1.038},{"t":2008.271,"v":1.030},{"t":2008.286,"v":1.040},{"t":2008.333,"v":1.042},{"t":2008.364,"v":1.035},{"t":2008.410,"v":1.046},{"t":2008.456,"v":1.050},{"t":2008.503,"v":1.043},{"t":2008.533,"v":1.048},{"t":2008.580,"v":1.043},{"t":2008.626,"v":1.033},{"t":2008.672,"v":1.053},{"t":2008.719,"v":1.066},{"t":2008.765,"v":1.095},{"t":2008.796,"v":1.130},{"t":2008.811,"v":1.199},{"t":2008.842,"v":1.162},{"t":2008.879,"v":1.207},{"t":2008.904,"v":1.162},{"t":2008.929,"v":1.194},{"t":2008.950,"v":1.162},{"t":2008.966,"v":1.120},{"t":2008.981,"v":1.146},{"t":2008.997,"v":1.145},{"t":2009.228,"v":1.145},{"t":2009.274,"v":1.143},{"t":2009.290,"v":1.135},{"t":2009.321,"v":1.140},{"t":2009.352,"v":1.153},{"t":2009.383,"v":1.162},{"t":2009.413,"v":1.175},{"t":2009.444,"v":1.162},{"t":2009.475,"v":1.154},{"t":2009.506,"v":1.133},{"t":2009.537,"v":1.151},{"t":2009.583,"v":1.165},{"t":2009.614,"v":1.151},{"t":2009.645,"v":1.159},{"t":2009.676,"v":1.165},{"t":2009.707,"v":1.162},{"t":2009.738,"v":1.173},{"t":2009.793,"v":1.184},{"t":2009.830,"v":1.172},{"t":2009.861,"v":1.181},{"t":2009.892,"v":1.184},{"t":2009.923,"v":1.175},{"t":2009.954,"v":1.165},{"t":2010.000,"v":1.170},{"t":2010.232,"v":1.170},{"t":2010.262,"v":1.177},{"t":2010.293,"v":1.178},{"t":2010.324,"v":1.169},{"t":2010.355,"v":1.146},{"t":2010.386,"v":1.165},{"t":2010.417,"v":1.140},{"t":2010.448,"v":1.122},{"t":2010.479,"v":1.148},{"t":2010.509,"v":1.130},{"t":2010.540,"v":1.111},{"t":2010.587,"v":1.101},{"t":2010.633,"v":1.093},{"t":2010.679,"v":1.085},{"t":2010.726,"v":1.091},{"t":2010.772,"v":1.104},{"t":2010.818,"v":1.095},{"t":2010.849,"v":1.104},{"t":2010.880,"v":1.101},{"t":2010.911,"v":1.085},{"t":2010.942,"v":1.103},{"t":2010.973,"v":1.101},{"t":2011.003,"v":1.114},{"t":2011.235,"v":1.116},{"t":2011.250,"v":1.124},{"t":2011.297,"v":1.151},{"t":2011.343,"v":1.122},
{"t":2011.378,"v":1.117},{"t":2011.409,"v":1.142},{"t":2011.440,"v":1.129},{"t":2011.471,"v":1.121},{"t":2011.502,"v":1.136},{"t":2011.533,"v":1.130},{"t":2011.564,"v":1.147},{"t":2011.595,"v":1.112},{"t":2011.626,"v":1.108},{"t":2011.656,"v":1.103},{"t":2011.718,"v":1.124},{"t":2011.749,"v":1.112},{"t":2011.811,"v":1.087},{"t":2011.842,"v":1.094},{"t":2011.872,"v":1.114},{"t":2011.903,"v":1.096},{"t":2011.934,"v":1.112},{"t":2011.965,"v":1.103},{"t":2011.996,"v":1.109},{"t":2012.258,"v":1.109},{"t":2012.274,"v":1.097},{"t":2012.305,"v":1.105},{"t":2012.336,"v":1.096},{"t":2012.366,"v":1.123},{"t":2012.397,"v":1.142},{"t":2012.428,"v":1.133},{"t":2012.459,"v":1.114},{"t":2012.490,"v":1.115},{"t":2012.521,"v":1.126},{"t":2012.552,"v":1.114},{"t":2012.583,"v":1.109},{"t":2012.613,"v":1.114},{"t":2012.644,"v":1.096},{"t":2012.675,"v":1.124},{"t":2012.706,"v":1.124},{"t":2012.737,"v":1.117},{"t":2012.768,"v":1.115},{"t":2012.799,"v":1.120},{"t":2012.830,"v":1.118},{"t":2012.860,"v":1.112},{"t":2012.891,"v":1.124},{"t":2012.922,"v":1.129},{"t":2012.953,"v":1.133},{"t":2012.984,"v":1.141},{"t":2013.231,"v":1.141},{"t":2013.262,"v":1.117},{"t":2013.293,"v":1.114},{"t":2013.324,"v":1.105},{"t":2013.354,"v":1.142},{"t":2013.385,"v":1.148},{"t":2013.416,"v":1.132},{"t":2013.447,"v":1.139},{"t":2013.478,"v":1.112},{"t":2013.509,"v":1.109},{"t":2013.540,"v":1.105},{"t":2013.571,"v":1.106},{"t":2013.601,"v":1.109},{"t":2013.632,"v":1.100},{"t":2013.663,"v":1.094},{"t":2013.694,"v":1.090},{"t":2013.725,"v":1.102},{"t":2013.756,"v":1.106},{"t":2013.787,"v":1.109},{"t":2013.818,"v":1.115},{"t":2013.848,"v":1.097},{"t":2013.879,"v":1.102},{"t":2013.910,"v":1.112},{"t":2013.941,"v":1.118},{"t":2013.972,"v":1.120},{"t":2014.234,"v":1.120},{"t":2014.250,"v":1.133},{"t":2014.281,"v":1.123},{"t":2014.312,"v":1.135},{"t":2014.342,"v":1.123},{"t":2014.373,"v":1.124},{"t":2014.404,"v":1.120},{"t":2014.435,"v":1.109},{"t":2014.466,"v":1.120},{"t":2014.497,"v":1.117},{"t":2014.528,"v":1.115},{"t":2014.559,"v":1.112},{"t":2014.589,"v":1.109},{"t":2014.620,"v":1.100},{"t":2014.651,"v":1.108},{"t":2014.682,"v":1.130},{"t":2014.713,"v":1.133},{"t":2014.744,"v":1.167},{"t":2014.775,"v":1.155},{"t":2014.805,"v":1.147},{"t":2014.836,"v":1.175},{"t":2014.867,"v":1.169},{"t":2014.898,"v":1.176},{"t":2014.929,"v":1.170},{"t":2014.960,"v":1.188},{"t":2014.991,"v":1.185},
{"t":2015.265,"v":1.186},{"t":2015.282,"v":1.176},{"t":2015.316,"v":1.163},{"t":2015.351,"v":1.157},{"t":2015.385,"v":1.152},{"t":2015.419,"v":1.158},{"t":2015.454,"v":1.161},{"t":2015.488,"v":1.154},{"t":2015.522,"v":1.158},{"t":2015.557,"v":1.161},{"t":2015.591,"v":1.163},{"t":2015.625,"v":1.157},{"t":2015.660,"v":1.155},{"t":2015.694,"v":1.150},{"t":2015.729,"v":1.144},{"t":2015.763,"v":1.138},{"t":2015.797,"v":1.133},{"t":2015.832,"v":1.136},{"t":2015.866,"v":1.138},{"t":2015.900,"v":1.132},{"t":2015.935,"v":1.133},{"t":2015.969,"v":1.133},{"t":2016.244,"v":1.133},{"t":2016.278,"v":1.141},{"t":2016.313,"v":1.143},{"t":2016.347,"v":1.135},{"t":2016.381,"v":1.137},{"t":2016.416,"v":1.126},{"t":2016.450,"v":1.102},{"t":2016.467,"v":1.073},{"t":2016.502,"v":1.070},{"t":2016.536,"v":1.068},{"t":2016.570,"v":1.062},{"t":2016.605,"v":1.068},{"t":2016.639,"v":1.075},{"t":2016.674,"v":1.070},{"t":2016.708,"v":1.064},{"t":2016.742,"v":1.060},{"t":2016.777,"v":1.065},{"t":2016.811,"v":1.068},{"t":2016.845,"v":1.070},{"t":2016.880,"v":1.073},{"t":2016.914,"v":1.070},{"t":2016.948,"v":1.068},{"t":2016.983,"v":1.085},{"t":2017.017,"v":1.084},{"t":2017.241,"v":1.084},{"t":2017.275,"v":1.097},{"t":2017.309,"v":1.091},{"t":2017.344,"v":1.097},{"t":2017.378,"v":1.101},{"t":2017.412,"v":1.095},{"t":2017.447,"v":1.099},{"t":2017.481,"v":1.090},{"t":2017.550,"v":1.113},{"t":2017.584,"v":1.109},{"t":2017.619,"v":1.105},{"t":2017.653,"v":1.112},{"t":2017.687,"v":1.119},{"t":2017.722,"v":1.116},{"t":2017.756,"v":1.107},{"t":2017.790,"v":1.104},{"t":2017.825,"v":1.093},{"t":2017.859,"v":1.090},{"t":2017.893,"v":1.090},{"t":2017.928,"v":1.091},{"t":2017.962,"v":1.085},{"t":2017.997,"v":1.088},{"t":2018.254,"v":1.088},{"t":2018.289,"v":1.079},{"t":2018.306,"v":1.048},{"t":2018.323,"v":1.064},{"t":2018.340,"v":1.077},{"t":2018.375,"v":1.060},{"t":2018.409,"v":1.077},{"t":2018.443,"v":1.074},{"t":2018.478,"v":1.079},{"t":2018.512,"v":1.073},{"t":2018.546,"v":1.077},{"t":2018.581,"v":1.084},{"t":2018.615,"v":1.079},{"t":2018.649,"v":1.084},{"t":2018.684,"v":1.079},{"t":2018.718,"v":1.093},{"t":2018.753,"v":1.095},{"t":2018.787,"v":1.098},{"t":2018.821,"v":1.098},{"t":2018.856,"v":1.092},{"t":2018.890,"v":1.095},{"t":2018.924,"v":1.092},{"t":2018.959,"v":1.090},{"t":2018.993,"v":1.084},{"t":2019.251,"v":1.084},{"t":2019.285,"v":1.090},{"t":2019.320,"v":1.101},{"t":2019.354,"v":1.090},{"t":2019.388,"v":1.087},{"t":2019.423,"v":1.084},{"t":2019.457,"v":1.079},{"t":2019.491,"v":1.068},{"t":2019.526,"v":1.071},{"t":2019.560,"v":1.073},{"t":2019.595,"v":1.079},{"t":2019.629,"v":1.077},{"t":2019.663,"v":1.075},{"t":2019.698,"v":1.071},{"t":2019.732,"v":1.074},{"t":2019.766,"v":1.071},{"t":2019.801,"v":1.064},{"t":2019.835,"v":1.059},{"t":2019.869,"v":1.062},{"t":2019.904,"v":1.061},{"t":2019.938,"v":1.064},{"t":2019.973,"v":1.065},{"t":2020.000,"v":1.058},
{"t":2020.244,"v":1.058},{"t":2020.282,"v":1.050},{"t":2020.320,"v":1.059},{"t":2020.357,"v":1.061},{"t":2020.395,"v":1.054},{"t":2020.432,"v":1.057},{"t":2020.470,"v":1.041},{"t":2020.508,"v":1.039},{"t":2020.545,"v":1.046},{"t":2020.583,"v":1.054},{"t":2020.620,"v":1.046},{"t":2020.658,"v":1.052},{"t":2020.696,"v":1.046},{"t":2020.733,"v":1.039},{"t":2020.771,"v":1.048},{"t":2020.808,"v":1.046},{"t":2020.846,"v":1.044},{"t":2020.883,"v":1.048},{"t":2020.921,"v":1.054},{"t":2020.959,"v":1.057},{"t":2020.996,"v":1.065},{"t":2021.034,"v":1.066},{"t":2021.259,"v":1.066},{"t":2021.278,"v":1.059},{"t":2021.316,"v":1.065},{"t":2021.353,"v":1.072},{"t":2021.391,"v":1.061},{"t":2021.429,"v":1.044},{"t":2021.466,"v":1.037},{"t":2021.504,"v":1.033},{"t":2021.541,"v":1.035},{"t":2021.579,"v":1.037},{"t":2021.617,"v":1.028},{"t":2021.635,"v":1.050},{"t":2021.673,"v":1.028},{"t":2021.711,"v":1.033},{"t":2021.748,"v":1.026},{"t":2021.786,"v":1.031},{"t":2021.823,"v":1.031},{"t":2021.861,"v":1.026},{"t":2021.898,"v":1.033},{"t":2021.936,"v":1.033},{"t":2021.974,"v":1.026},{"t":2022.000,"v":1.017},{"t":2022.256,"v":1.017},{"t":2022.293,"v":1.024},{"t":2022.312,"v":1.054},{"t":2022.331,"v":1.067},{"t":2022.350,"v":1.091},{"t":2022.376,"v":1.065},{"t":2022.406,"v":1.054},{"t":2022.436,"v":1.106},{"t":2022.481,"v":1.106},{"t":2022.519,"v":1.119},{"t":2022.556,"v":1.102},{"t":2022.594,"v":1.089},{"t":2022.632,"v":1.110},{"t":2022.669,"v":1.128},{"t":2022.707,"v":1.119},{"t":2022.726,"v":1.171},{"t":2022.752,"v":1.164},{"t":2022.782,"v":1.167},{"t":2022.820,"v":1.141},{"t":2022.838,"v":1.164},{"t":2022.865,"v":1.117},{"t":2022.895,"v":1.121},{"t":2022.932,"v":1.126},{"t":2022.970,"v":1.119},{"t":2023.233,"v":1.119},{"t":2023.263,"v":1.106},{"t":2023.289,"v":1.110},{"t":2023.327,"v":1.123},{"t":2023.365,"v":1.136},{"t":2023.402,"v":1.139},{"t":2023.440,"v":1.145},{"t":2023.477,"v":1.158},{"t":2023.515,"v":1.164},{"t":2023.553,"v":1.162},{"t":2023.590,"v":1.164},{"t":2023.628,"v":1.167},{"t":2023.665,"v":1.160},{"t":2023.703,"v":1.156},{"t":2023.741,"v":1.164},{"t":2023.778,"v":1.160},{"t":2023.816,"v":1.164},{"t":2023.853,"v":1.151},{"t":2023.891,"v":1.149},{"t":2023.929,"v":1.143},{"t":2023.966,"v":1.147},{"t":2024.229,"v":1.147},{"t":2024.248,"v":1.158},{"t":2024.267,"v":1.175},{"t":2024.286,"v":1.197},{"t":2024.323,"v":1.167},{"t":2024.361,"v":1.184},{"t":2024.398,"v":1.203},{"t":2024.436,"v":1.214},{"t":2024.474,"v":1.236},{"t":2024.511,"v":1.218},{"t":2024.549,"v":1.225},{"t":2024.586,"v":1.214},{"t":2024.624,"v":1.223},{"t":2024.662,"v":1.214},{"t":2024.699,"v":1.223},{"t":2024.737,"v":1.192},{"t":2024.774,"v":1.175},{"t":2024.812,"v":1.171},{"t":2024.850,"v":1.167},{"t":2024.887,"v":1.171},{"t":2024.925,"v":1.177},{"t":2024.962,"v":1.184},{"t":2025.233,"v":1.184},{"t":2025.256,"v":1.244},{"t":2025.282,"v":1.225},{"t":2025.320,"v":1.205},{"t":2025.357,"v":1.227},{"t":2025.395,"v":1.236},{"t":2025.432,"v":1.244},{"t":2025.470,"v":1.253},{"t":2025.508,"v":1.236},{"t":2025.545,"v":1.233},{"t":2025.583,"v":1.227},{"t":2025.620,"v":1.229},{"t":2025.658,"v":1.233},{"t":2025.695,"v":1.236},{"t":2025.733,"v":1.244},{"t":2025.771,"v":1.240},{"t":2025.808,"v":1.236},{"t":2025.846,"v":1.240},{"t":2025.883,"v":1.231},{"t":2025.921,"v":1.225},{"t":2025.975,"v":1.223}
],
"bsew": [
{"t":2003.015,"v":1.000},{"t":2003.308,"v":1.000},{"t":2003.354,"v":1.003},{"t":2003.416,"v":1.004},{"t":2003.478,"v":1.004},{"t":2003.524,"v":1.003},{"t":2003.571,"v":1.001},{"t":2003.617,"v":1.000},{"t":2003.663,"v":1.006},{"t":2003.694,"v":1.001},{"t":2003.725,"v":0.995},{"t":2003.771,"v":0.994},{"t":2003.818,"v":0.995},{"t":2003.848,"v":0.998},{"t":2003.879,"v":1.004},{"t":2003.941,"v":1.012},{"t":2003.987,"v":1.016},{"t":2004.373,"v":1.017},{"t":2004.420,"v":1.015},{"t":2004.466,"v":1.015},{"t":2004.528,"v":1.016},{"t":2004.574,"v":1.010},{"t":2004.620,"v":1.016},{"t":2004.713,"v":1.018},{"t":2004.775,"v":1.019},{"t":2004.836,"v":1.025},{"t":2004.867,"v":1.030},{"t":2004.898,"v":1.034},{"t":2004.929,"v":1.031},{"t":2004.991,"v":1.037},{"t":2005.315,"v":1.036},{"t":2005.361,"v":1.031},{"t":2005.408,"v":1.034},{"t":2005.454,"v":1.028},{"t":2005.485,"v":1.034},{"t":2005.516,"v":1.040},{"t":2005.562,"v":1.034},{"t":2005.608,"v":1.031},{"t":2005.670,"v":1.034},{"t":2005.716,"v":1.037},{"t":2005.763,"v":1.033},{"t":2005.793,"v":1.036},{"t":2005.840,"v":1.039},{"t":2005.871,"v":1.036},{"t":2005.902,"v":1.037},{"t":2005.932,"v":1.031},{"t":2005.963,"v":1.022},{"t":2005.979,"v":1.027},{"t":2006.380,"v":1.027},{"t":2006.426,"v":1.022},{"t":2006.473,"v":1.025},{"t":2006.519,"v":1.022},{"t":2006.565,"v":1.027},{"t":2006.627,"v":1.028},{"t":2006.673,"v":1.031},{"t":2006.720,"v":1.025},{"t":2006.766,"v":1.031},{"t":2006.797,"v":1.027},{"t":2006.843,"v":1.031},{"t":2006.889,"v":1.034},{"t":2006.920,"v":1.037},{"t":2006.967,"v":1.043},{"t":2007.399,"v":1.043},{"t":2007.430,"v":1.041},{"t":2007.476,"v":1.045},{"t":2007.538,"v":1.049},{"t":2007.584,"v":1.052},{"t":2007.630,"v":1.061},{"t":2007.646,"v":1.045},{"t":2007.677,"v":1.064},{"t":2007.723,"v":1.057},
{"t":2007.762,"v":1.053},{"t":2007.808,"v":1.064},{"t":2007.854,"v":1.067},{"t":2007.901,"v":1.064},{"t":2007.947,"v":1.058},{"t":2007.993,"v":1.056},{"t":2008.240,"v":1.056},{"t":2008.271,"v":1.054},{"t":2008.317,"v":1.056},{"t":2008.364,"v":1.058},{"t":2008.410,"v":1.054},{"t":2008.441,"v":1.061},{"t":2008.487,"v":1.059},{"t":2008.533,"v":1.059},{"t":2008.580,"v":1.061},{"t":2008.626,"v":1.062},{"t":2008.657,"v":1.082},{"t":2008.688,"v":1.077},{"t":2008.719,"v":1.098},{"t":2008.750,"v":1.111},{"t":2008.780,"v":1.127},{"t":2008.811,"v":1.162},{"t":2008.842,"v":1.178},{"t":2008.873,"v":1.191},{"t":2008.904,"v":1.178},{"t":2008.935,"v":1.170},{"t":2008.966,"v":1.143},{"t":2008.997,"v":1.137},{"t":2009.491,"v":1.137},{"t":2009.521,"v":1.135},{"t":2009.568,"v":1.136},{"t":2009.614,"v":1.136},{"t":2009.676,"v":1.139},{"t":2009.707,"v":1.143},{"t":2009.753,"v":1.143},{"t":2009.799,"v":1.148},{"t":2009.846,"v":1.151},{"t":2009.892,"v":1.149},{"t":2009.954,"v":1.143},{"t":2010.000,"v":1.139},{"t":2010.293,"v":1.139},{"t":2010.340,"v":1.136},{"t":2010.386,"v":1.143},{"t":2010.432,"v":1.130},{"t":2010.463,"v":1.117},{"t":2010.494,"v":1.114},{"t":2010.525,"v":1.106},{"t":2010.556,"v":1.103},{"t":2010.587,"v":1.101},{"t":2010.617,"v":1.096},{"t":2010.648,"v":1.104},{"t":2010.679,"v":1.111},{"t":2010.710,"v":1.124},{"t":2010.741,"v":1.133},{"t":2010.772,"v":1.148},{"t":2010.803,"v":1.136},{"t":2010.834,"v":1.164},{"t":2010.864,"v":1.138},{"t":2010.895,"v":1.136},{"t":2010.926,"v":1.144},{"t":2010.957,"v":1.149},{"t":2010.988,"v":1.157},{"t":2011.250,"v":1.157},{"t":2011.281,"v":1.161},{"t":2011.328,"v":1.159},
{"t":2011.348,"v":1.161},{"t":2011.409,"v":1.170},{"t":2011.471,"v":1.164},{"t":2011.533,"v":1.174},{"t":2011.564,"v":1.178},{"t":2011.595,"v":1.146},{"t":2011.626,"v":1.161},{"t":2011.656,"v":1.155},{"t":2011.687,"v":1.161},{"t":2011.718,"v":1.155},{"t":2011.749,"v":1.186},{"t":2011.780,"v":1.167},{"t":2011.811,"v":1.121},{"t":2011.842,"v":1.155},{"t":2011.872,"v":1.179},{"t":2011.903,"v":1.183},{"t":2011.934,"v":1.161},{"t":2011.965,"v":1.173},{"t":2011.996,"v":1.167},{"t":2012.366,"v":1.167},{"t":2012.397,"v":1.173},{"t":2012.428,"v":1.167},{"t":2012.459,"v":1.170},{"t":2012.490,"v":1.168},{"t":2012.521,"v":1.171},{"t":2012.552,"v":1.173},{"t":2012.583,"v":1.170},{"t":2012.613,"v":1.168},{"t":2012.644,"v":1.161},{"t":2012.675,"v":1.155},{"t":2012.706,"v":1.158},{"t":2012.737,"v":1.155},{"t":2012.768,"v":1.158},{"t":2012.799,"v":1.152},{"t":2012.830,"v":1.155},{"t":2012.860,"v":1.150},{"t":2012.891,"v":1.156},{"t":2012.922,"v":1.161},{"t":2012.953,"v":1.170},{"t":2012.984,"v":1.175},{"t":2013.339,"v":1.175},{"t":2013.385,"v":1.180},{"t":2013.416,"v":1.176},{"t":2013.447,"v":1.174},{"t":2013.478,"v":1.171},{"t":2013.509,"v":1.167},{"t":2013.540,"v":1.165},{"t":2013.571,"v":1.168},{"t":2013.601,"v":1.167},{"t":2013.632,"v":1.165},{"t":2013.663,"v":1.158},{"t":2013.694,"v":1.159},{"t":2013.725,"v":1.161},{"t":2013.756,"v":1.167},{"t":2013.787,"v":1.170},{"t":2013.818,"v":1.171},{"t":2013.848,"v":1.167},{"t":2013.879,"v":1.164},{"t":2013.910,"v":1.167},{"t":2013.941,"v":1.168},{"t":2013.972,"v":1.173},{"t":2014.435,"v":1.173},{"t":2014.466,"v":1.168},{"t":2014.497,"v":1.167},{"t":2014.528,"v":1.162},{"t":2014.559,"v":1.159},{"t":2014.589,"v":1.158},{"t":2014.620,"v":1.159},{"t":2014.651,"v":1.161},{"t":2014.682,"v":1.170},{"t":2014.713,"v":1.180},{"t":2014.744,"v":1.185},{"t":2014.775,"v":1.177},{"t":2014.805,"v":1.188},{"t":2014.836,"v":1.200},{"t":2014.867,"v":1.197},{"t":2014.898,"v":1.207},{"t":2014.929,"v":1.204},{"t":2014.960,"v":1.216},{"t":2014.991,"v":1.217},
{"t":2015.316,"v":1.217},{"t":2015.351,"v":1.214},{"t":2015.385,"v":1.213},{"t":2015.419,"v":1.222},{"t":2015.454,"v":1.230},{"t":2015.488,"v":1.228},{"t":2015.522,"v":1.231},{"t":2015.557,"v":1.230},{"t":2015.591,"v":1.225},{"t":2015.625,"v":1.233},{"t":2015.660,"v":1.231},{"t":2015.694,"v":1.230},{"t":2015.729,"v":1.228},{"t":2015.763,"v":1.230},{"t":2015.797,"v":1.233},{"t":2015.832,"v":1.228},{"t":2015.866,"v":1.230},{"t":2015.900,"v":1.234},{"t":2015.935,"v":1.231},{"t":2015.969,"v":1.234},{"t":2016.003,"v":1.239},{"t":2016.278,"v":1.239},{"t":2016.313,"v":1.240},{"t":2016.347,"v":1.241},{"t":2016.381,"v":1.241},{"t":2016.416,"v":1.239},{"t":2016.450,"v":1.231},{"t":2016.485,"v":1.222},{"t":2016.519,"v":1.220},{"t":2016.588,"v":1.222},{"t":2016.656,"v":1.219},{"t":2016.725,"v":1.217},{"t":2016.794,"v":1.219},{"t":2016.828,"v":1.217},{"t":2016.863,"v":1.222},{"t":2016.897,"v":1.228},{"t":2016.914,"v":1.216},{"t":2016.931,"v":1.237},{"t":2016.966,"v":1.232},{"t":2017.241,"v":1.232},{"t":2017.275,"v":1.236},{"t":2017.344,"v":1.236},{"t":2017.412,"v":1.241},{"t":2017.447,"v":1.240},{"t":2017.481,"v":1.243},{"t":2017.515,"v":1.247},{"t":2017.550,"v":1.258},{"t":2017.584,"v":1.250},{"t":2017.619,"v":1.255},{"t":2017.653,"v":1.252},{"t":2017.687,"v":1.261},{"t":2017.722,"v":1.250},{"t":2017.756,"v":1.252},{"t":2017.790,"v":1.245},{"t":2017.825,"v":1.250},{"t":2017.859,"v":1.244},{"t":2017.893,"v":1.247},{"t":2017.928,"v":1.242},{"t":2017.962,"v":1.239},{"t":2017.997,"v":1.237},{"t":2018.271,"v":1.237},{"t":2018.306,"v":1.230},{"t":2018.340,"v":1.233},{"t":2018.375,"v":1.228},{"t":2018.409,"v":1.233},{"t":2018.443,"v":1.239},{"t":2018.478,"v":1.242},{"t":2018.512,"v":1.245},{"t":2018.546,"v":1.247},{"t":2018.581,"v":1.250},{"t":2018.615,"v":1.248},{"t":2018.684,"v":1.248},{"t":2018.718,"v":1.247},{"t":2018.753,"v":1.248},{"t":2018.787,"v":1.244},{"t":2018.821,"v":1.236},{"t":2018.856,"v":1.239},{"t":2018.890,"v":1.241},{"t":2018.924,"v":1.242},{"t":2018.993,"v":1.241},{"t":2019.285,"v":1.241},{"t":2019.320,"v":1.242},{"t":2019.354,"v":1.240},{"t":2019.388,"v":1.239},{"t":2019.423,"v":1.239},{"t":2019.457,"v":1.244},{"t":2019.491,"v":1.237},{"t":2019.526,"v":1.241},{"t":2019.560,"v":1.245},{"t":2019.595,"v":1.247},{"t":2019.629,"v":1.242},{"t":2019.663,"v":1.247},{"t":2019.698,"v":1.237},{"t":2019.732,"v":1.241},{"t":2019.766,"v":1.231},{"t":2019.801,"v":1.223},{"t":2019.835,"v":1.226},{"t":2019.869,"v":1.226},{"t":2019.904,"v":1.229},{"t":2019.938,"v":1.232},{"t":2019.973,"v":1.233},{"t":2020.000,"v":1.239},
{"t":2020.244,"v":1.238},{"t":2020.282,"v":1.237},{"t":2020.320,"v":1.240},{"t":2020.376,"v":1.242},{"t":2020.432,"v":1.241},{"t":2020.470,"v":1.229},{"t":2020.526,"v":1.242},{"t":2020.564,"v":1.270},{"t":2020.602,"v":1.257},{"t":2020.639,"v":1.264},{"t":2020.677,"v":1.272},{"t":2020.714,"v":1.266},{"t":2020.752,"v":1.251},{"t":2020.789,"v":1.255},{"t":2020.827,"v":1.261},{"t":2020.865,"v":1.272},{"t":2020.902,"v":1.281},{"t":2020.940,"v":1.283},{"t":2020.977,"v":1.292},{"t":2021.008,"v":1.303},{"t":2021.271,"v":1.303},{"t":2021.297,"v":1.302},{"t":2021.335,"v":1.304},{"t":2021.372,"v":1.306},{"t":2021.410,"v":1.307},{"t":2021.447,"v":1.289},{"t":2021.485,"v":1.288},{"t":2021.523,"v":1.291},{"t":2021.560,"v":1.293},{"t":2021.598,"v":1.289},{"t":2021.635,"v":1.299},{"t":2021.673,"v":1.291},{"t":2021.711,"v":1.295},{"t":2021.748,"v":1.293},{"t":2021.786,"v":1.279},{"t":2021.816,"v":1.277},{"t":2021.842,"v":1.289},{"t":2021.880,"v":1.303},{"t":2021.917,"v":1.301},{"t":2021.955,"v":1.297},{"t":2022.000,"v":1.287},{"t":2022.274,"v":1.287},{"t":2022.312,"v":1.301},{"t":2022.350,"v":1.313},{"t":2022.387,"v":1.299},{"t":2022.425,"v":1.317},{"t":2022.462,"v":1.311},{"t":2022.500,"v":1.323},{"t":2022.538,"v":1.313},{"t":2022.575,"v":1.313},{"t":2022.613,"v":1.315},{"t":2022.650,"v":1.319},{"t":2022.688,"v":1.329},{"t":2022.707,"v":1.341},{"t":2022.726,"v":1.366},{"t":2022.752,"v":1.362},{"t":2022.782,"v":1.343},{"t":2022.820,"v":1.352},{"t":2022.857,"v":1.339},{"t":2022.895,"v":1.347},{"t":2022.932,"v":1.354},{"t":2022.970,"v":1.348},{"t":2023.233,"v":1.348},{"t":2023.252,"v":1.343},{"t":2023.289,"v":1.341},{"t":2023.327,"v":1.333},{"t":2023.365,"v":1.333},{"t":2023.402,"v":1.331},{"t":2023.440,"v":1.335},{"t":2023.477,"v":1.335},{"t":2023.515,"v":1.325},{"t":2023.553,"v":1.313},{"t":2023.590,"v":1.309},{"t":2023.628,"v":1.305},{"t":2023.665,"v":1.309},{"t":2023.703,"v":1.319},{"t":2023.741,"v":1.307},{"t":2023.778,"v":1.323},{"t":2023.816,"v":1.315},{"t":2023.853,"v":1.303},{"t":2023.891,"v":1.300},{"t":2023.929,"v":1.305},{"t":2023.947,"v":1.315},{"t":2024.248,"v":1.315},{"t":2024.286,"v":1.321},{"t":2024.323,"v":1.319},{"t":2024.361,"v":1.323},{"t":2024.398,"v":1.321},{"t":2024.436,"v":1.319},{"t":2024.474,"v":1.321},{"t":2024.511,"v":1.317},{"t":2024.549,"v":1.325},{"t":2024.586,"v":1.333},{"t":2024.624,"v":1.325},{"t":2024.662,"v":1.331},{"t":2024.699,"v":1.323},{"t":2024.726,"v":1.338},{"t":2024.756,"v":1.309},{"t":2024.793,"v":1.301},{"t":2024.823,"v":1.295},{"t":2024.850,"v":1.313},{"t":2024.887,"v":1.305},{"t":2024.925,"v":1.325},{"t":2024.962,"v":1.345},{"t":2024.981,"v":1.346},{"t":2025.218,"v":1.346},{"t":2025.233,"v":1.352},{"t":2025.263,"v":1.348},{"t":2025.282,"v":1.356},{"t":2025.320,"v":1.341},{"t":2025.357,"v":1.358},{"t":2025.395,"v":1.360},{"t":2025.432,"v":1.354},{"t":2025.470,"v":1.366},{"t":2025.508,"v":1.354},{"t":2025.545,"v":1.350},{"t":2025.583,"v":1.352},{"t":2025.620,"v":1.350},{"t":2025.677,"v":1.354},{"t":2025.714,"v":1.345},{"t":2025.752,"v":1.350},{"t":2025.789,"v":1.354},{"t":2025.827,"v":1.354},{"t":2025.857,"v":1.362},{"t":2025.895,"v":1.341},{"t":2025.932,"v":1.339},{"t":2025.975,"v":1.337}
]
},
"layer": [
{
  "data": {"name": "crises"},
  "mark": {"type": "rect", "opacity": 0.2},
  "encoding": {
    "x": {"field": "start", "type": "quantitative", "title": "Date", "scale": {"domain": [2003.008, 2025.978], "nice": false, "zero": false}, "axis": {"values": [2005, 2010, 2015, 2020, 2025], "format": "d", "labelPadding": 6, "titlePadding": 28, "grid": true}},
    "x2": {"field": "end"},
    "fill": {"field": "label", "type": "nominal", "scale": {"domain": ["2008 GFC", "2011 Euro Debt", "2020 COVID", "2022 Rate Hike"], "range": ["#FFA500", "#FF0000", "#800080", "#0465F1"]}, "legend": null}
  }
},
{
  "data": {"name": "brp"},
  "mark": {"type": "line", "strokeWidth": 4, "strokeJoin": "round"},
  "encoding": {
    "x": {"field": "t", "type": "quantitative", "title": "Date"},
    "y": {"field": "v", "type": "quantitative", "title": "Cumulative Return", "scale": {"domain": [0.9563, 1.5604], "nice": false, "zero": false}, "axis": {"values": [1, 1.1, 1.2, 1.3, 1.4, 1.5], "format": "~g", "labelPadding": 4, "titlePadding": 31, "grid": true}},
    "color": {"datum": "Best Strategy Risk Parity", "type": "nominal",
      "scale": {"domain": ["Best Strategy Risk Parity", "Breakout Risk Parity", "TSM Risk Parity", "Best Strategy Equal Weight"], "range": ["#636EFA", "#EF553B", "#00CC96", "#AB63FA"]},
      "legend": {"title": null, "orient": "none", "legendX": 46, "legendY": 27, "direction": "vertical", "symbolType": "stroke", "symbolStrokeWidth": 4, "symbolSize": 3249, "labelFont": "Liberation Sans", "labelFontSize": 24, "labelColor": "#2a3f5f", "labelOffset": 6, "labelLimit": 0, "fillColor": "#ffffff", "padding": 16, "rowPadding": 14, "clipHeight": 24}}
  }
},
{
  "data": {"name": "bkrp"},
  "mark": {"type": "line", "strokeWidth": 4, "strokeJoin": "round"},
  "encoding": {
    "x": {"field": "t", "type": "quantitative", "title": "Date"},
    "y": {"field": "v", "type": "quantitative", "title": "Cumulative Return"},
    "color": {"datum": "Breakout Risk Parity", "type": "nominal"}
  }
},
{
  "data": {"name": "tsm"},
  "mark": {"type": "line", "strokeWidth": 4, "strokeJoin": "round"},
  "encoding": {
    "x": {"field": "t", "type": "quantitative", "title": "Date"},
    "y": {"field": "v", "type": "quantitative", "title": "Cumulative Return"},
    "color": {"datum": "TSM Risk Parity", "type": "nominal"}
  }
},
{
  "data": {"name": "bsew"},
  "mark": {"type": "line", "strokeWidth": 4, "strokeJoin": "round"},
  "encoding": {
    "x": {"field": "t", "type": "quantitative", "title": "Date"},
    "y": {"field": "v", "type": "quantitative", "title": "Cumulative Return"},
    "color": {"datum": "Best Strategy Equal Weight", "type": "nominal"}
  }
},
{
  "data": {"name": "crises"},
  "mark": {"type": "text", "align": "left", "baseline": "alphabetic", "dx": 4, "dy": 26, "font": "Liberation Sans", "fontSize": 24, "color": "#2a3f5f"},
  "encoding": {
    "x": {"field": "start", "type": "quantitative", "title": "Date"},
    "y": {"value": 0},
    "text": {"field": "label"}
  }
}
]
}
